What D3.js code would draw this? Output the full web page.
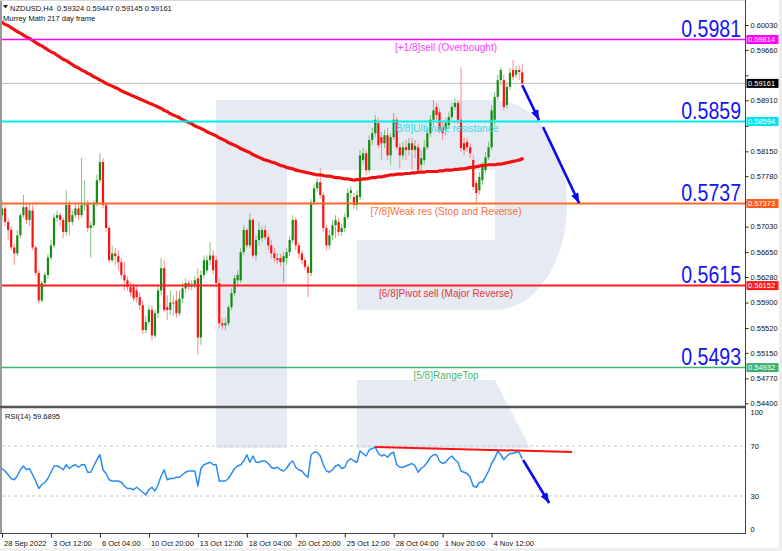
<!DOCTYPE html>
<html><head><meta charset="utf-8">
<script src="https://cdn.jsdelivr.net/npm/d3@7"></script>
<style>html,body{margin:0;padding:0;background:#fff;overflow:hidden}text{font-family:"Liberation Sans",Arial,sans-serif}</style>
</head><body><svg id="c" width="782" height="551"></svg>
<script>
// ---------- data ----------
const symbol = "NZDUSD,H4";
const lastOHLC = [0.59324, 0.59447, 0.59145, 0.59161];
const indicatorName = "Murrey Math 217 day frame";
const rsiLast = 59.6895;

const open = [0.5720,0.5730,0.5710,0.5698,0.5672,0.5663,0.5690,0.5720,0.5732,0.5713,
0.5727,0.5672,0.5634,0.5593,0.5619,0.5631,0.5657,0.5675,0.5716,0.5720,
0.5713,0.5695,0.5735,0.5710,0.5720,0.5730,0.5720,0.5735,0.5736,0.5701,
0.5705,0.5738,0.5772,0.5799,0.5735,0.5701,0.5653,0.5663,0.5659,0.5650,
0.5631,0.5623,0.5613,0.5613,0.5608,0.5598,0.5586,0.5549,0.5561,0.5579,
0.5541,0.5574,0.5608,0.5641,0.5583,0.5579,0.5590,0.5593,0.5574,0.5596,
0.5611,0.5619,0.5614,0.5617,0.5626,0.5538,0.5631,0.5638,0.5653,0.5660,
0.5653,0.5619,0.5559,0.5556,0.5559,0.5583,0.5604,0.5623,0.5623,0.5665,
0.5698,0.5675,0.5713,0.5660,0.5683,0.5686,0.5698,0.5687,0.5675,0.5663,
0.5656,0.5656,0.5650,0.5656,0.5665,0.5683,0.5713,0.5675,0.5663,0.5653,
0.5643,0.5634,0.5739,0.5760,0.5769,0.5750,0.5701,0.5675,0.5690,0.5705,
0.5710,0.5695,0.5701,0.5717,0.5753,0.5747,0.5735,0.5747,0.5802,0.5812,
0.5787,0.5832,0.5842,0.5857,0.5836,0.5827,0.5839,0.5809,0.5836,0.5862,
0.5821,0.5809,0.5821,0.5817,0.5827,0.5817,0.5821,0.5795,0.5802,0.5821,
0.5842,0.5862,0.5881,0.5873,0.5851,0.5847,0.5854,0.5866,0.5881,0.5887,
0.5862,0.5827,0.5829,0.5821,0.5802,0.5768,0.5757,0.5772,0.5787,0.5806,
0.5821,0.5862,0.5896,0.5921,0.5921,0.5884,0.5911,0.5936,0.5929,0.5936,
0.59324];
const high = [0.5742,0.5735,0.5716,0.5704,0.5678,0.5698,0.5723,0.5750,0.5736,0.5738,
0.5735,0.5675,0.5638,0.5622,0.5635,0.5662,0.5683,0.5722,0.5727,0.5724,
0.5717,0.5757,0.5742,0.5727,0.5738,0.5735,0.5805,0.5772,0.5742,0.5710,
0.5742,0.5780,0.5812,0.5805,0.5738,0.5705,0.5675,0.5671,0.5668,0.5656,
0.5650,0.5629,0.5620,0.5619,0.5616,0.5605,0.5593,0.5570,0.5586,0.5586,
0.5579,0.5616,0.5656,0.5653,0.5601,0.5608,0.5601,0.5608,0.5608,0.5620,
0.5626,0.5623,0.5623,0.5629,0.5641,0.5638,0.5660,0.5660,0.5680,0.5668,
0.5660,0.5626,0.5567,0.5567,0.5586,0.5611,0.5631,0.5638,0.5671,0.5705,
0.5701,0.5723,0.5716,0.5690,0.5710,0.5704,0.5705,0.5693,0.5683,0.5672,
0.5663,0.5662,0.5665,0.5671,0.5689,0.5720,0.5717,0.5680,0.5668,0.5657,
0.5647,0.5744,0.5766,0.5775,0.5790,0.5754,0.5705,0.5698,0.5713,0.5720,
0.5716,0.5707,0.5723,0.5760,0.5763,0.5753,0.5757,0.5817,0.5820,0.5817,
0.5839,0.5850,0.5869,0.5865,0.5844,0.5847,0.5850,0.5842,0.5872,0.5866,
0.5827,0.5829,0.5832,0.5835,0.5835,0.5832,0.5827,0.5817,0.5832,0.5850,
0.5869,0.5891,0.5887,0.5879,0.5859,0.5865,0.5873,0.5888,0.5894,0.5891,
0.5940,0.5835,0.5835,0.5827,0.5809,0.5772,0.5784,0.5799,0.5814,0.5829,
0.5884,0.5903,0.5929,0.5940,0.5929,0.5918,0.5939,0.5951,0.5942,0.5943,
0.59447];
const low = [0.5710,0.5704,0.5683,0.5668,0.5646,0.5659,0.5686,0.5716,0.5707,0.5704,
0.5668,0.5629,0.5589,0.5590,0.5613,0.5625,0.5653,0.5671,0.5710,0.5704,
0.5686,0.5689,0.5690,0.5705,0.5716,0.5713,0.5716,0.5727,0.5695,0.5657,
0.5701,0.5733,0.5768,0.5730,0.5695,0.5649,0.5650,0.5646,0.5638,0.5626,
0.5608,0.5608,0.5599,0.5592,0.5590,0.5579,0.5543,0.5544,0.5556,0.5534,
0.5537,0.5567,0.5601,0.5576,0.5564,0.5571,0.5571,0.5567,0.5570,0.5589,
0.5605,0.5608,0.5608,0.5611,0.5512,0.5527,0.5626,0.5634,0.5646,0.5631,
0.5611,0.5552,0.5549,0.5549,0.5555,0.5579,0.5599,0.5616,0.5619,0.5660,
0.5671,0.5671,0.5656,0.5653,0.5675,0.5680,0.5683,0.5668,0.5656,0.5650,
0.5647,0.5644,0.5620,0.5646,0.5659,0.5678,0.5668,0.5656,0.5647,0.5638,
0.5598,0.5629,0.5735,0.5754,0.5745,0.5695,0.5668,0.5669,0.5683,0.5686,
0.5689,0.5689,0.5695,0.5713,0.5745,0.5729,0.5727,0.5742,0.5795,0.5780,
0.5783,0.5824,0.5836,0.5820,0.5802,0.5820,0.5802,0.5795,0.5832,0.5817,
0.5790,0.5802,0.5802,0.5809,0.5787,0.5805,0.5780,0.5784,0.5795,0.5817,
0.5836,0.5854,0.5862,0.5842,0.5832,0.5839,0.5850,0.5862,0.5876,0.5856,
0.5814,0.5809,0.5814,0.5805,0.5757,0.5739,0.5751,0.5765,0.5783,0.5802,
0.5817,0.5854,0.5891,0.5914,0.5876,0.5879,0.5906,0.5921,0.5924,0.5921,
0.59145];
const close = [0.5730,0.5710,0.5698,0.5672,0.5663,0.5690,0.5720,0.5732,0.5713,0.5727,
0.5672,0.5634,0.5593,0.5619,0.5631,0.5657,0.5675,0.5716,0.5720,0.5713,
0.5695,0.5735,0.5710,0.5720,0.5730,0.5720,0.5735,0.5736,0.5701,0.5705,
0.5738,0.5772,0.5799,0.5735,0.5701,0.5653,0.5663,0.5659,0.5650,0.5631,
0.5623,0.5613,0.5605,0.5596,0.5598,0.5586,0.5549,0.5561,0.5579,0.5541,
0.5574,0.5608,0.5641,0.5579,0.5579,0.5590,0.5589,0.5574,0.5596,0.5611,
0.5619,0.5614,0.5617,0.5623,0.5538,0.5631,0.5653,0.5653,0.5660,0.5638,
0.5619,0.5559,0.5556,0.5559,0.5583,0.5604,0.5626,0.5631,0.5665,0.5698,
0.5675,0.5713,0.5660,0.5683,0.5698,0.5698,0.5687,0.5675,0.5663,0.5656,
0.5653,0.5650,0.5659,0.5665,0.5683,0.5713,0.5675,0.5663,0.5653,0.5643,
0.5634,0.5739,0.5760,0.5769,0.5750,0.5701,0.5675,0.5690,0.5705,0.5713,
0.5695,0.5701,0.5717,0.5753,0.5757,0.5735,0.5750,0.5809,0.5812,0.5787,
0.5832,0.5842,0.5862,0.5824,0.5827,0.5839,0.5809,0.5836,0.5862,0.5821,
0.5809,0.5821,0.5817,0.5827,0.5817,0.5823,0.5787,0.5805,0.5821,0.5842,
0.5862,0.5876,0.5869,0.5847,0.5842,0.5857,0.5866,0.5881,0.5887,0.5862,
0.5820,0.5817,0.5821,0.5812,0.5762,0.5753,0.5777,0.5792,0.5806,0.5821,
0.5876,0.5896,0.5921,0.5936,0.5881,0.5911,0.5932,0.5926,0.5936,0.5933,
0.59161];
// 217-day moving average (red curve)
const ma = [0.6007,0.6004,0.6002,0.5999,0.5996,0.5993,0.5991,0.5988,0.5985,0.5983,
0.5980,0.5977,0.5974,0.5972,0.5969,0.5966,0.5963,0.5961,0.5958,0.5955,
0.5952,0.5950,0.5947,0.5944,0.5941,0.5939,0.5936,0.5934,0.5931,0.5929,
0.5926,0.5924,0.5921,0.5919,0.5916,0.5914,0.5912,0.5910,0.5908,0.5905,
0.5903,0.5901,0.5899,0.5897,0.5895,0.5893,0.5891,0.5889,0.5887,0.5885,
0.5883,0.5881,0.5879,0.5876,0.5874,0.5871,0.5869,0.5867,0.5865,0.5862,
0.5860,0.5858,0.5856,0.5853,0.5851,0.5849,0.5847,0.5844,0.5842,0.5840,
0.5838,0.5835,0.5833,0.5831,0.5828,0.5826,0.5824,0.5822,0.5819,0.5817,
0.5815,0.5813,0.5810,0.5808,0.5806,0.5804,0.5802,0.5801,0.5799,0.5798,
0.5796,0.5794,0.5793,0.5791,0.5790,0.5789,0.5787,0.5786,0.5785,0.5784,
0.5783,0.5782,0.5781,0.5780,0.5780,0.5779,0.5778,0.5778,0.5777,0.5776,
0.5776,0.5775,0.5774,0.5774,0.5773,0.5772,0.5773,0.5773,0.5774,0.5774,
0.5775,0.5776,0.5776,0.5777,0.5777,0.5778,0.5779,0.5780,0.5780,0.5781,
0.5781,0.5781,0.5782,0.5782,0.5783,0.5783,0.5784,0.5784,0.5784,0.5785,
0.5785,0.5785,0.5785,0.5786,0.5786,0.5787,0.5787,0.5787,0.5788,0.5788,
0.5789,0.5789,0.5790,0.5791,0.5791,0.5792,0.5793,0.5794,0.5794,0.5795,
0.5795,0.5795,0.5796,0.5796,0.5797,0.5798,0.5799,0.5800,0.5801,0.5802,
0.5804];
const rsi = [52,50,47,44,43,46,51,54,51,52,
47,42,36,39,41,44,49,54,54,53,
51,55,52,54,55,53,55,55,49,49,
54,59,63,51,48,43,42,42,42,41,
38,36,36,35,37,35,33,31,35,37,
34,39,46,51,43,44,44,45,45,47,
49,50,50,50,38,52,55,56,57,55,
55,42,42,42,44,48,52,54,55,58,
63,57,62,57,57,58,58,56,53,52,
53,51,50,52,56,58,53,51,50,47,
45,63,65,65,62,55,50,49,51,54,
55,52,53,58,60,58,57,66,64,62,
67,68,69,64,62,63,61,64,65,55,
53,53,54,55,56,54,49,52,54,57,
61,63,63,58,56,57,60,62,59,57,
50,49,48,45,38,37,41,41,45,50,
56,60,66,63,59,62,64,64,65,65,
59.6895];

const levels = [0.59814, 0.58594, 0.57373, 0.56152, 0.54932];
const levelNames = ["[+1/8]sell (Overbought)", "[8/8]Ultimate resistance",
  "[7/8]Weak res (Stop and Reverse)", "[6/8]Pivot sell (Major Reverse)", "[5/8]RangeTop"];
const levelShort = ["0.5981", "0.5859", "0.5737", "0.5615", "0.5493"];

const xTickIdx = [0,16,32,48,64,80,96,112,128,144,160];
const xTickLabels = ["28 Sep 2022","3 Oct 12:00","6 Oct 04:00","10 Oct 20:00","13 Oct 12:00",
  "18 Oct 04:00","20 Oct 20:00","25 Oct 12:00","28 Oct 04:00","1 Nov 20:00","4 Nov 12:00"];
const yTickValues = [0.60030,0.59660,0.59280,0.58910,0.58530,0.58150,0.57780,0.57400,
  0.57030,0.56650,0.56280,0.55900,0.55520,0.55150,0.54770,0.54400];
const rsiTicks = [100,70,30,0];
const rsiLevels = [70,30];

// annotations: [barIndex, value] pairs
const priceArrows = [[[170,0.59136],[175.5,0.58615]], [[176.8,0.58511],[188.6,0.57379]]];
const rsiArrow = [[170.3,58.8],[178.8,24.4]];
const rsiTrend = [[121.9,69.2],[186.3,65.2]];

// ---------- styles ----------
const levelColors = ["#ff00ff","#00eeee","#ff6a2a","#ff1e1e","#3cb371"];
const levelTextColors = ["#ff40ff","#30e0f0","#ff7040","#e8343c","#4cb870"];
const boxColors = ["#ff00ff","#00e5ee","#ff5a1a","#ff1a1a","#3cb371"];
const levelWidths = [1.5,2,2,2,1.5];
const upBody = "#128c12", upWick = "#7fc27f", dnBody = "#ff1010", dnWick = "#ff8a8a";
const arrowBlue = "#0a0af0";

// ---------- scales ----------
const svg = d3.select("#c");
const x = d3.scaleLinear().domain([0,170]).range([2,522.2]);
const y = d3.scaleLinear().domain([0.5440,0.6003]).range([403.3,25]);
const yr = d3.scaleLinear().domain([0,100]).range([533.5,408.5]);
const PL = 2, PR = 745, MT = 0, MB = 406, RT = 408, RB = 533;

svg.append("rect").attr("width",782).attr("height",551).attr("fill","#fff");
svg.append("rect").attr("x",779).attr("y",0).attr("width",3).attr("height",551).attr("fill","#ececec");
svg.append("rect").attr("x",0).attr("y",548).attr("width",782).attr("height",3).attr("fill","#f0f0f0");

const defs = svg.append("defs");
defs.append("clipPath").attr("id","cm").append("rect").attr("x",PL).attr("y",MT).attr("width",PR-PL).attr("height",MB-MT);
defs.append("clipPath").attr("id","cr").append("rect").attr("x",PL).attr("y",RT).attr("width",PR-PL).attr("height",RB-RT);
defs.append("marker").attr("id","ah").attr("viewBox","0 0 10 8").attr("refX",10).attr("refY",4)
  .attr("markerWidth",11).attr("markerHeight",8).attr("markerUnits","userSpaceOnUse").attr("orient","auto")
  .append("path").attr("d","M0,0 L10,4 L0,8 Z").attr("fill",arrowBlue);

// ---------- watermark ----------
const wm = svg.append("g").attr("fill","#e6eaf2");
wm.append("path").attr("d","M216,100 H287 V448 H216 Z");
wm.append("path").attr("d","M287,100 H495 A72,105 0 0 1 495,310 H357 V240 H495 V170 H287 Z");
wm.append("path").attr("d","M357,380 H495 L530,448 H357 Z");

// ---------- main panel ----------
const gm = svg.append("g").attr("clip-path","url(#cm)");
gm.append("line").attr("x1",PL).attr("x2",PR).attr("y1",y(lastOHLC[3])).attr("y2",y(lastOHLC[3]))
  .attr("stroke","#bdbdbd").attr("stroke-width",1);

const idx = d3.range(close.length);
const cg = gm.append("g");
cg.selectAll("line.w").data(idx).join("line").attr("class","w")
  .attr("x1",i=>x(i)).attr("x2",i=>x(i)).attr("y1",i=>y(high[i])).attr("y2",i=>y(low[i]))
  .attr("stroke",i=>close[i]>=open[i]?upWick:dnWick).attr("stroke-width",1);
cg.selectAll("rect").data(idx).join("rect")
  .attr("x",i=>x(i)-1.1).attr("width",2.2)
  .attr("y",i=>y(Math.max(open[i],close[i])))
  .attr("height",i=>Math.max(1,Math.abs(y(open[i])-y(close[i]))))
  .attr("fill",i=>close[i]>=open[i]?upBody:dnBody);

gm.append("path").datum(ma).attr("fill","none").attr("stroke","#f01010").attr("stroke-width",3.2)
  .attr("stroke-linejoin","round").attr("stroke-linecap","round")
  .attr("d",d3.line().x((d,i)=>x(i)).y(d=>y(d)).curve(d3.curveMonotoneX));

levels.forEach((v,k)=>{
  gm.append("line").attr("x1",0).attr("x2",PR).attr("y1",y(v)).attr("y2",y(v))
    .attr("stroke",levelColors[k]).attr("stroke-width",levelWidths[k]);
  svg.append("text").attr("x",446).attr("y",y(v)+11).attr("text-anchor","middle")
    .attr("font-size","10px").attr("fill",levelTextColors[k]).text(levelNames[k]);
  // big level value, horizontally condensed like the reference
  svg.append("text").attr("transform",`translate(741,${y(v)-2.5}) scale(0.85,1)`)
    .attr("text-anchor","end").attr("font-size","23px").attr("fill","#1414f5").text(levelShort[k]);
});

priceArrows.forEach(a=>{
  svg.append("line").attr("x1",x(a[0][0])).attr("y1",y(a[0][1])).attr("x2",x(a[1][0])).attr("y2",y(a[1][1]))
    .attr("stroke",arrowBlue).attr("stroke-width",2.6).attr("marker-end","url(#ah)");
});

// header
svg.append("path").attr("d","M3,5 L8,5 L5.5,8.5 Z").attr("fill","#222");
svg.append("text").attr("x",10).attr("y",10.5).attr("font-size","7.5px").attr("fill","#111")
  .style("white-space","pre").text(symbol+"  "+lastOHLC.map(d3.format(".5f")).join(" "));
svg.append("text").attr("x",3).attr("y",21).attr("font-size","7.5px").attr("fill","#111").text(indicatorName);

// ---------- RSI panel ----------
const gr = svg.append("g").attr("clip-path","url(#cr)");
rsiLevels.forEach(v=>{
  gr.append("line").attr("x1",PL).attr("x2",PR).attr("y1",yr(v)).attr("y2",yr(v))
    .attr("stroke","#c4c4c4").attr("stroke-dasharray","3,3");
});
gr.append("path").datum(rsi).attr("fill","none").attr("stroke","#2a8cf0").attr("stroke-width",1.5)
  .attr("stroke-linejoin","round").attr("d",d3.line().x((d,i)=>x(i)).y(d=>yr(d)));
gr.append("line").attr("x1",x(rsiTrend[0][0])).attr("y1",yr(rsiTrend[0][1]))
  .attr("x2",x(rsiTrend[1][0])).attr("y2",yr(rsiTrend[1][1])).attr("stroke","#ff1010").attr("stroke-width",2);
svg.append("line").attr("x1",x(rsiArrow[0][0])).attr("y1",yr(rsiArrow[0][1]))
  .attr("x2",x(rsiArrow[1][0])).attr("y2",yr(rsiArrow[1][1]))
  .attr("stroke",arrowBlue).attr("stroke-width",2.6).attr("marker-end","url(#ah)");
svg.append("text").attr("x",5).attr("y",419).attr("font-size","7.5px").attr("fill","#111")
  .text("RSI(14) "+rsiLast.toFixed(4));

// ---------- frames ----------
svg.append("line").attr("x1",1).attr("x2",1).attr("y1",0).attr("y2",RB).attr("stroke","#9a9a9a").attr("stroke-width",2);
svg.append("line").attr("x1",0).attr("x2",PR).attr("y1",0.5).attr("y2",0.5).attr("stroke","#d8d8d8");
svg.append("line").attr("x1",PR+0.5).attr("x2",PR+0.5).attr("y1",0).attr("y2",RB).attr("stroke","#444");
svg.append("line").attr("x1",0).attr("x2",PR).attr("y1",407).attr("y2",407).attr("stroke","#555").attr("stroke-width",2.5);

// ---------- axes ----------
const boxVals = levels.concat([lastOHLC[3]]);
const boxFill = boxColors.concat(["#000"]);
// tick labels hidden behind a coloured price box are not drawn (as in the reference)
const covered = v => boxVals.some(b => Math.abs(y(b)-y(v)) < 8);
const ay = svg.append("g").attr("transform",`translate(${PR+0.5},0)`)
  .call(d3.axisRight(y).tickValues(yTickValues).tickFormat(v => covered(v) ? "" : d3.format(".5f")(v))
    .tickSize(3).tickPadding(2));
ay.select(".domain").remove();
ay.selectAll("line").attr("stroke","#222");
ay.selectAll("text").attr("font-size","7.5px").attr("fill","#111").attr("font-family","Liberation Sans, Arial, sans-serif");

boxVals.forEach((v,k)=>{
  svg.append("rect").attr("x",PR+1.5).attr("y",y(v)-4.5).attr("width",32).attr("height",9).attr("fill",boxFill[k]);
  svg.append("text").attr("x",PR+3).attr("y",y(v)+2.7).attr("font-size","7.5px").attr("fill","#fff")
    .text(d3.format(".5f")(v));
});

const ar = svg.append("g").attr("transform",`translate(${PR+0.5},0)`)
  .call(d3.axisRight(yr).tickValues(rsiTicks).tickSize(0).tickPadding(5));
ar.select(".domain").remove();
ar.selectAll("text").attr("font-size","7.5px").attr("fill","#111").attr("font-family","Liberation Sans, Arial, sans-serif")
  .attr("dy",d=>d===100?"0.75em":(d===0?"-0.3em":"0.32em"));

const ax = svg.append("g").attr("transform",`translate(0,${RB+0.5})`)
  .call(d3.axisBottom(x).tickValues(xTickIdx).tickFormat((d,i)=>xTickLabels[i]).tickSize(4).tickPadding(3));
ax.select(".domain").attr("d",`M0,0H${PR+1}`).attr("stroke","#444");
ax.selectAll("line").attr("stroke","#222");
ax.selectAll("text").attr("font-size","7.5px").attr("fill","#111").attr("text-anchor","start").attr("x",1.5)
  .attr("font-family","Liberation Sans, Arial, sans-serif");
</script></body></html>
